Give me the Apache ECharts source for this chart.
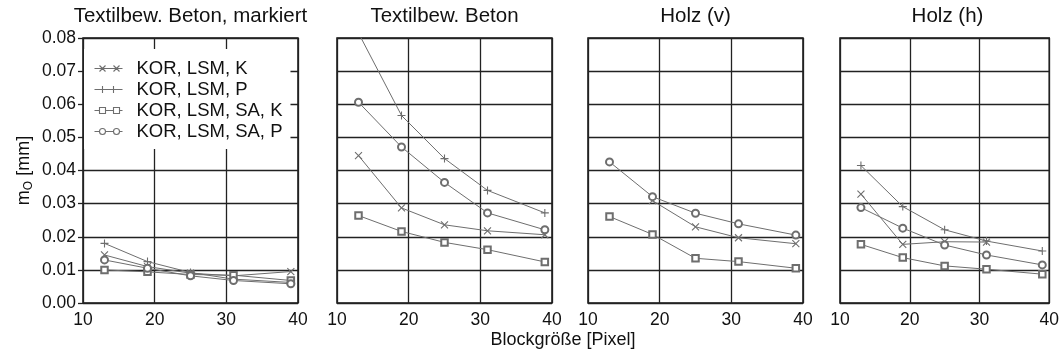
<!DOCTYPE html>
<html><head><meta charset="utf-8">
<script src="https://cdn.jsdelivr.net/npm/echarts@6/dist/echarts.min.js"></script>
<style>html,body{margin:0;padding:0;background:#fff}#c{width:1062px;height:356px}</style>
</head><body><div id="c"></div>
<script>
// ---- data ----
const blockSizes = [13, 19, 25, 31, 39];
const xTicks = [10, 20, 30, 40];
const yTicks = [0, 0.01, 0.02, 0.03, 0.04, 0.05, 0.06, 0.07, 0.08];
const panelTitles = ['Textilbew. Beton, markiert', 'Textilbew. Beton', 'Holz (v)', 'Holz (h)'];
const seriesNames = ['KOR, LSM, K', 'KOR, LSM, P', 'KOR, LSM, SA, K', 'KOR, LSM, SA, P'];

// panel 1: Textilbew. Beton, markiert
const p1_K   = [0.0145, 0.0110, 0.0090, 0.0082, 0.0095];
const p1_P   = [0.0180, 0.0125, 0.0092, 0.0072, 0.0062];
const p1_SAK = [0.0100, 0.0094, 0.0086, 0.0084, 0.0068];
const p1_SAP = [0.0130, 0.0105, 0.0082, 0.0068, 0.0058];
// panel 2: Textilbew. Beton
const p2_K   = [0.0445, 0.0287, 0.0236, 0.0218, 0.0206];
const p2_P   = [0.0815, 0.0566, 0.0436, 0.0340, 0.0272];
const p2_SAK = [0.0264, 0.0216, 0.0183, 0.0161, 0.0124];
const p2_SAP = [0.0606, 0.0471, 0.0364, 0.0272, 0.0221];
// panel 3: Holz (v)
const p3_K   = [null, 0.0309, 0.0230, 0.0197, 0.0179];
const p3_P   = [null, null, null, null, null];
const p3_SAK = [0.0261, 0.0207, 0.0135, 0.0125, 0.0105];
const p3_SAP = [0.0426, 0.0321, 0.0271, 0.0239, 0.0205];
// panel 4: Holz (h)
const p4_K   = [0.0329, 0.0177, 0.0185, 0.0184, null];
const p4_P   = [0.0415, 0.0291, 0.0221, 0.0187, 0.0157];
const p4_SAK = [0.0177, 0.0137, 0.0112, 0.0102, 0.0087];
const p4_SAP = [0.0288, 0.0226, 0.0175, 0.0145, 0.0115];

const panels = [
  [p1_K, p1_P, p1_SAK, p1_SAP],
  [p2_K, p2_P, p2_SAK, p2_SAP],
  [p3_K, p3_P, p3_SAK, p3_SAP],
  [p4_K, p4_P, p4_SAK, p4_SAP]
];

// ---- layout / style ----
const FONT = 'Liberation Sans';
const gridLefts = [83, 337, 588, 840];
const gridWidth = 215;
const gridTop = 38, gridHeight = 265;
const LINE = '#6e6e6e';
const symbols = [
  'path://M0,0L10,10M10,0L0,10',
  'path://M5,0L5,10M0,5L10,5',
  'emptyRect',
  'emptyCircle'
];
const symbolSizes = [7, 8, 6.5, 7];
// legend samples: a short line with a marker near each end
const legendIcons = [
  'path://M0,0M28,10M0,5H28M5,2L11,8M11,2L5,8M19,2L25,8M25,2L19,8',
  'path://M0,0M28,10M0,5H28M8,1.5V8.5M19,1.5V8.5',
  'path://M0,0M28,10M0,5H5M11,5H19M25,5H28M5,2H11V8H5ZM19,2H25V8H19Z',
  'path://M0,0M28,10M0,5H5M11,5H19M25,5H28M5,5A3,3,0,1,0,11,5A3,3,0,1,0,5,5ZM19,5A3,3,0,1,0,25,5A3,3,0,1,0,19,5Z'
];

const grids = [], xAxes = [], yAxes = [], series = [], titles = [];
gridLefts.forEach((l, i) => {
  grids.push({left: l, top: gridTop, width: gridWidth, height: gridHeight,
    show: true, borderColor: '#111', borderWidth: 1.5, backgroundColor: 'transparent', containLabel: false});
  xAxes.push({type: 'value', gridIndex: i, min: 10, max: 40, interval: 10,
    axisLine: {show: false}, axisTick: {show: false},
    axisLabel: {fontFamily: FONT, fontSize: 17.5, color: '#111', margin: 8,
      formatter: v => xTicks.indexOf(v) >= 0 ? String(v) : ''},
    splitLine: {show: true, lineStyle: {color: '#222', width: 1.3}}});
  yAxes.push({type: 'value', gridIndex: i, min: 0, max: 0.08, interval: 0.01,
    axisLine: {show: false},
    axisTick: {show: i === 0, length: 5, lineStyle: {color: '#222', width: 1.3}},
    axisLabel: {show: i === 0, fontFamily: FONT, fontSize: 17.5, color: '#111', margin: 7,
      formatter: v => v.toFixed(2)},
    splitLine: {show: true, lineStyle: {color: '#222', width: 1.3}},
    name: i === 0 ? 'm{sub|O} [mm]' : '', nameLocation: 'middle', nameGap: 48,
    nameTextStyle: {fontFamily: FONT, fontSize: 18, color: '#111',
      rich: {sub: {fontFamily: FONT, fontSize: 12, color: '#111', padding: [9, 0, 0, 0]}}}});
  titles.push({text: panelTitles[i], left: l + gridWidth / 2, top: 6, textAlign: 'center', padding: 0,
    textStyle: {fontFamily: FONT, fontSize: 20.5, fontWeight: 'normal', color: '#111'}});
  panels[i].forEach((vals, s) => {
    const data = [];
    blockSizes.forEach((x, k) => { if (vals[k] !== null) data.push([x, vals[k]]); });
    series.push({name: seriesNames[s], type: 'line', xAxisIndex: i, yAxisIndex: i,
      data: data, clip: true, symbol: symbols[s], symbolSize: symbolSizes[s],
      lineStyle: {color: LINE, width: 1},
      itemStyle: {color: LINE, borderColor: LINE, borderWidth: 1.1},
      emphasis: {disabled: true}, z: 3});
  });
});
titles.push({text: 'Blockgröße [Pixel]', left: 563, top: 331, textAlign: 'center', padding: 0,
  textStyle: {fontFamily: FONT, fontSize: 18, fontWeight: 'normal', color: '#111'}});

const chart = echarts.init(document.getElementById('c'), null, {renderer: 'canvas'});
chart.setOption({
  animation: false,
  backgroundColor: '#fff',
  title: titles,
  grid: grids, xAxis: xAxes, yAxis: yAxes, series: series,
  legend: {
    data: seriesNames.map((n, s) => ({name: n, icon: legendIcons[s],
      itemStyle: {color: 'none', borderColor: LINE, borderWidth: 1.1}})),
    orient: 'vertical', left: 84, top: 49,
    backgroundColor: '#fff', padding: [10, 8, 8, 8], itemGap: 2,
    itemWidth: 28, itemHeight: 10,
    textStyle: {fontFamily: FONT, fontSize: 18.5, color: '#111', lineHeight: 19, padding: [0, 0, 0, 9]},
    selectedMode: false, z: 10}
});
</script></body></html>
